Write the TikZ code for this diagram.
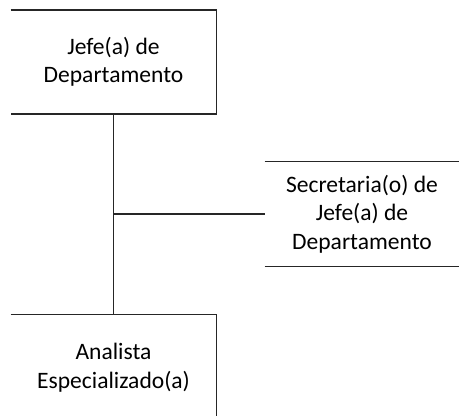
\documentclass[tikz,border=0pt]{standalone}
\usepackage{fontspec}
\setmainfont{Carlito}
\tikzset{
  puesto/.style={align=center, inner sep=0pt, font=\fontsize{13.4}{16.2}\selectfont},
  linea/.style={line width=0.85pt, black!85}
}

\begin{document}
\begin{tikzpicture}[x=0.02cm,y=-0.02cm]
\useasboundingbox (0,0) rectangle (459,416);

\node[puesto, minimum width=205*0.02cm, minimum height=103*0.02cm] (jefe) at (113.5,62) {Jefe(a) de\\Departamento};
\node[puesto, minimum width=194*0.02cm, minimum height=104*0.02cm] (secre) at (362,214) {Secretaria(o) de\\Jefe(a) de\\Departamento};
\node[puesto, minimum width=205*0.02cm, minimum height=202*0.02cm] (analista) at (113.5,416) {};
\node[puesto, anchor=north] (texto) at (113.5,343) {Analista\\Especializado(a)};

\draw[linea] (jefe.north west) -- (jefe.north east) -- (jefe.south east) -- (jefe.south west);
\draw[linea] (secre.north west) -- (secre.north east);
\draw[linea] (secre.south west) -- (secre.south east);
\draw[linea] (analista.north west) -- (analista.north east) -- (analista.east);

\coordinate (rama) at (jefe.south |- secre.west);
\draw[linea] (jefe.south) -- (analista.north);
\draw[linea] (rama) -- (secre.west);

\end{tikzpicture}
\end{document}
